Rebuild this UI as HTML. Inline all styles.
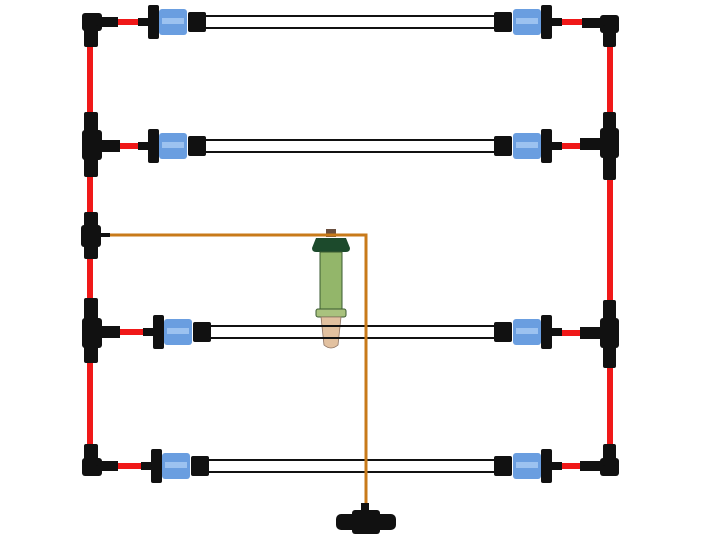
<!DOCTYPE html>
<html><head><meta charset="utf-8"><style>html,body{margin:0;padding:0;background:#fff}svg{display:block}</style></head>
<body>
<svg width="720" height="553" viewBox="0 0 720 553" xmlns="http://www.w3.org/2000/svg">
<defs>
<g id="con">
  <rect x="-10" y="-4" width="12" height="8" fill="#111"/>
  <rect x="0" y="-17" width="11" height="34" rx="2" fill="#111"/>
  <rect x="11" y="-13" width="28" height="26" rx="3" fill="#6a9ee0"/>
  <rect x="14" y="-4" width="22" height="6" fill="#9cc2f0"/>
  <rect x="40" y="-10" width="18" height="20" rx="2" fill="#111"/>
</g>
</defs>
<!-- verticals -->
<rect x="87" y="22" width="6" height="445" fill="#f01818"/>
<rect x="607" y="22" width="6" height="445" fill="#f01818"/>
<!-- tensiometer -->
<rect x="326" y="229" width="10" height="8" fill="#6a5040"/>
<path d="M316 238 H346 L350 248 Q350 252 346 252 H316 Q312 252 312 248 Z" fill="#1c4a2c"/>
<rect x="320" y="252" width="22" height="58" fill="#93b66a" stroke="#3a5a30" stroke-width="1"/>
<rect x="316" y="309" width="30" height="8" rx="2" fill="#a9c27e" stroke="#3a5a30" stroke-width="1"/>
<path d="M321 317 H341 L338 345 Q331 351 324 345 Z" fill="#e2c1a0" stroke="#8a7060" stroke-width="0.8"/>
<!-- tubes -->
<g stroke="#111" stroke-width="2" fill="#fff">
<rect x="205" y="16" width="292" height="12"/>
<rect x="205" y="140" width="292" height="12"/>
<rect x="208" y="460" width="290" height="12"/>
</g>
<g stroke="#111" stroke-width="2" fill="none">
<line x1="210" y1="326" x2="497" y2="326"/>
<line x1="210" y1="338" x2="497" y2="338"/>
</g>
<!-- red branches -->
<g fill="#f01818">
<rect x="95" y="19" width="50" height="6"/>
<rect x="95" y="143" width="50" height="6"/>
<rect x="95" y="329" width="55" height="6"/>
<rect x="95" y="463" width="52" height="6"/>
<rect x="552" y="19" width="55" height="6"/>
<rect x="552" y="143" width="55" height="6"/>
<rect x="552" y="330" width="55" height="6"/>
<rect x="552" y="463" width="55" height="6"/>
</g>
<!-- left fittings -->
<g fill="#111">
<rect x="82" y="13" width="20" height="18" rx="3"/><rect x="84" y="25" width="14" height="22" rx="2"/><rect x="100" y="17" width="18" height="10"/>
<rect x="82" y="130" width="20" height="30" rx="3"/><rect x="84" y="112" width="14" height="65" rx="2"/><rect x="100" y="140" width="20" height="12"/>
<rect x="81" y="225" width="20" height="22" rx="3"/><rect x="84" y="212" width="14" height="47" rx="2"/><rect x="100" y="233" width="10" height="4"/>
<rect x="82" y="318" width="20" height="30" rx="3"/><rect x="84" y="298" width="14" height="65" rx="2"/><rect x="100" y="326" width="20" height="12"/>
<rect x="82" y="458" width="20" height="18" rx="3"/><rect x="84" y="444" width="14" height="22" rx="2"/><rect x="100" y="461" width="18" height="10"/>
<!-- right fittings -->
<rect x="600" y="15" width="19" height="18" rx="3"/><rect x="603" y="25" width="13" height="22" rx="2"/><rect x="582" y="18" width="20" height="10"/>
<rect x="600" y="128" width="19" height="30" rx="3"/><rect x="603" y="112" width="13" height="68" rx="2"/><rect x="580" y="138" width="22" height="12"/>
<rect x="600" y="318" width="19" height="30" rx="3"/><rect x="603" y="300" width="13" height="68" rx="2"/><rect x="580" y="327" width="22" height="12"/>
<rect x="600" y="458" width="19" height="18" rx="3"/><rect x="603" y="444" width="13" height="22" rx="2"/><rect x="580" y="461" width="22" height="10"/>
</g>
<!-- connectors -->
<use href="#con" transform="translate(148,22)"/>
<use href="#con" transform="translate(148,146)"/>
<use href="#con" transform="translate(153,332)"/>
<use href="#con" transform="translate(151,466)"/>
<use href="#con" transform="translate(552,22) scale(-1,1)"/>
<use href="#con" transform="translate(552,146) scale(-1,1)"/>
<use href="#con" transform="translate(552,332) scale(-1,1)"/>
<use href="#con" transform="translate(552,466) scale(-1,1)"/>
<!-- orange line -->
<polyline points="110,235 366,235 366,508" fill="none" stroke="#c87a1a" stroke-width="3"/>
<!-- bottom tee -->
<g fill="#111">
<rect x="361" y="503" width="8" height="10"/>
<rect x="336" y="514" width="60" height="16" rx="5"/>
<rect x="352" y="510" width="28" height="24" rx="3"/>
</g>
</svg>
</body></html>
